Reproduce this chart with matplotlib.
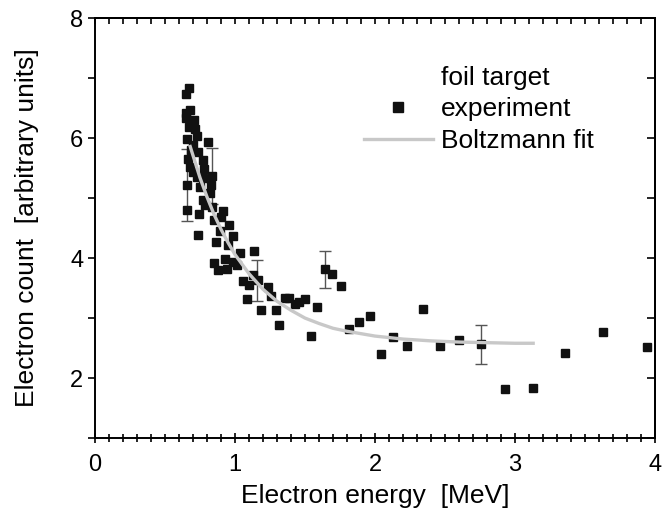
import matplotlib
matplotlib.use("Agg")
import matplotlib.pyplot as plt
from matplotlib.ticker import MultipleLocator
from matplotlib.lines import Line2D

plt.rcParams['font.family'] = ['Liberation Sans', 'DejaVu Sans']

# experiment points (MeV, arb. units)
exp_x = [0.674, 0.652, 0.676, 0.650, 0.650, 0.707, 0.671, 0.717, 0.731, 0.657,
         0.810, 0.702, 0.688, 0.738, 0.667, 0.774, 0.679, 0.781, 0.702, 0.836,
         0.726, 0.774, 0.659, 0.750, 0.829, 0.821, 0.774, 0.786, 0.659, 0.912,
         0.833, 0.743, 0.900, 0.850, 0.960, 0.893, 0.736, 0.988, 0.864, 0.948,
         1.036, 1.138, 0.929, 0.850, 0.988, 0.881, 0.940, 1.012, 1.060, 1.100,
         1.167, 1.238, 1.083, 1.184, 1.290, 1.260, 1.357, 1.131, 1.388, 1.429,
         1.460, 1.500, 1.588, 1.317, 1.543, 1.643, 1.695, 1.755, 1.817, 1.886,
         1.964, 2.043, 2.131, 2.231, 2.340, 2.464, 2.602, 2.757, 2.931, 3.126,
         3.357, 3.626, 3.945]
exp_y = [6.83, 6.73, 6.47, 6.42, 6.34, 6.30, 6.19, 6.16, 6.04, 5.99,
         5.93, 5.88, 5.80, 5.77, 5.66, 5.63, 5.52, 5.49, 5.44, 5.37,
         5.36, 5.33, 5.22, 5.19, 5.22, 5.08, 4.97, 4.88, 4.81, 4.79,
         4.86, 4.74, 4.69, 4.63, 4.55, 4.45, 4.39, 4.36, 4.27, 4.22,
         4.09, 4.12, 3.99, 3.91, 3.94, 3.80, 3.81, 3.88, 3.61, 3.55,
         3.63, 3.52, 3.31, 3.13, 3.14, 3.36, 3.33, 3.72, 3.33, 3.24,
         3.26, 3.31, 3.19, 2.88, 2.70, 3.81, 3.74, 3.54, 2.82, 2.93,
         3.04, 2.40, 2.69, 2.53, 3.15, 2.53, 2.64, 2.57, 1.82, 1.84,
         2.42, 2.77, 2.51]

# error bars on a few points
err_x = [0.659, 0.836, 1.160, 1.643, 2.757]
err_y = [5.22, 5.37, 3.63, 3.81, 2.56]
err_v = [0.60, 0.46, 0.34, 0.31, 0.32]

# Boltzmann fit curve
fit_x = [0.68, 0.75, 0.80, 0.85, 0.90, 0.95, 1.00, 1.10, 1.20, 1.30, 1.40,
         1.50, 1.60, 1.70, 1.80, 2.00, 2.20, 2.40, 2.60, 2.80, 3.00, 3.13]
fit_y = [5.86, 5.34, 5.02, 4.73, 4.48, 4.26, 4.06, 3.74, 3.48, 3.28, 3.13,
         3.00, 2.91, 2.83, 2.78, 2.70, 2.65, 2.62, 2.60, 2.59, 2.58, 2.58]

fig = plt.figure(figsize=(6.69, 5.19), dpi=100)
ax = fig.add_axes([0.142, 0.156, 0.837, 0.809])

ax.errorbar(err_x, err_y, yerr=err_v, fmt='none', ecolor='#555555',
            elinewidth=1.0, capsize=4, capthick=1.0, zorder=2)
ax.plot(exp_x, exp_y, 's', color='#111111', markersize=6, zorder=3)
ax.plot(fit_x, fit_y, '-', color='#c8c8c8', linewidth=2.4, zorder=4)

ax.set_xlim(0, 4)
ax.set_ylim(1, 8)
ax.xaxis.set_major_locator(MultipleLocator(1))
ax.xaxis.set_minor_locator(MultipleLocator(0.1))
ax.yaxis.set_major_locator(MultipleLocator(2))
ax.yaxis.set_minor_locator(MultipleLocator(1))

for s in ax.spines.values():
    s.set_linewidth(1.4)

ax.tick_params(axis='x', which='both', direction='inout', labelsize=17,
               width=1.2, pad=8)
ax.tick_params(axis='x', which='major', length=7)
ax.tick_params(axis='x', which='minor', length=6)
ax.tick_params(axis='y', which='both', direction='out', length=5,
               labelsize=17, width=1.2)

# top and right ticks point inward
top = ax.secondary_xaxis('top')
top.xaxis.set_major_locator(MultipleLocator(1))
top.xaxis.set_minor_locator(MultipleLocator(0.1))
top.tick_params(which='both', direction='in', length=4, width=1.2, labeltop=False)
top.spines['top'].set_linewidth(1.4)
right = ax.secondary_yaxis('right')
right.yaxis.set_major_locator(MultipleLocator(1))
right.tick_params(which='both', direction='in', length=6, width=1.2, labelright=False)
right.spines['right'].set_linewidth(1.4)

ax.set_xlabel('Electron energy  [MeV]', fontsize=19, labelpad=6)
ax.set_ylabel('Electron count  [arbitrary units]', fontsize=19, labelpad=22)

handles = [Line2D([], [], linestyle='none'),
           Line2D([], [], marker='s', linestyle='none', color='#111111', markersize=7),
           Line2D([], [], color='#c8c8c8', linewidth=2.4)]
labels = ['foil target', 'experiment', 'Boltzmann fit']
ax.legend(handles, labels, loc='upper left', bbox_to_anchor=(364 / 669, 1 - 66 / 519),
          bbox_transform=fig.transFigure, frameon=False, fontsize=19,
          handlelength=2.6, handletextpad=0.3, labelspacing=0.28,
          borderpad=0, borderaxespad=0)

fig.savefig('out.png', dpi=100)
